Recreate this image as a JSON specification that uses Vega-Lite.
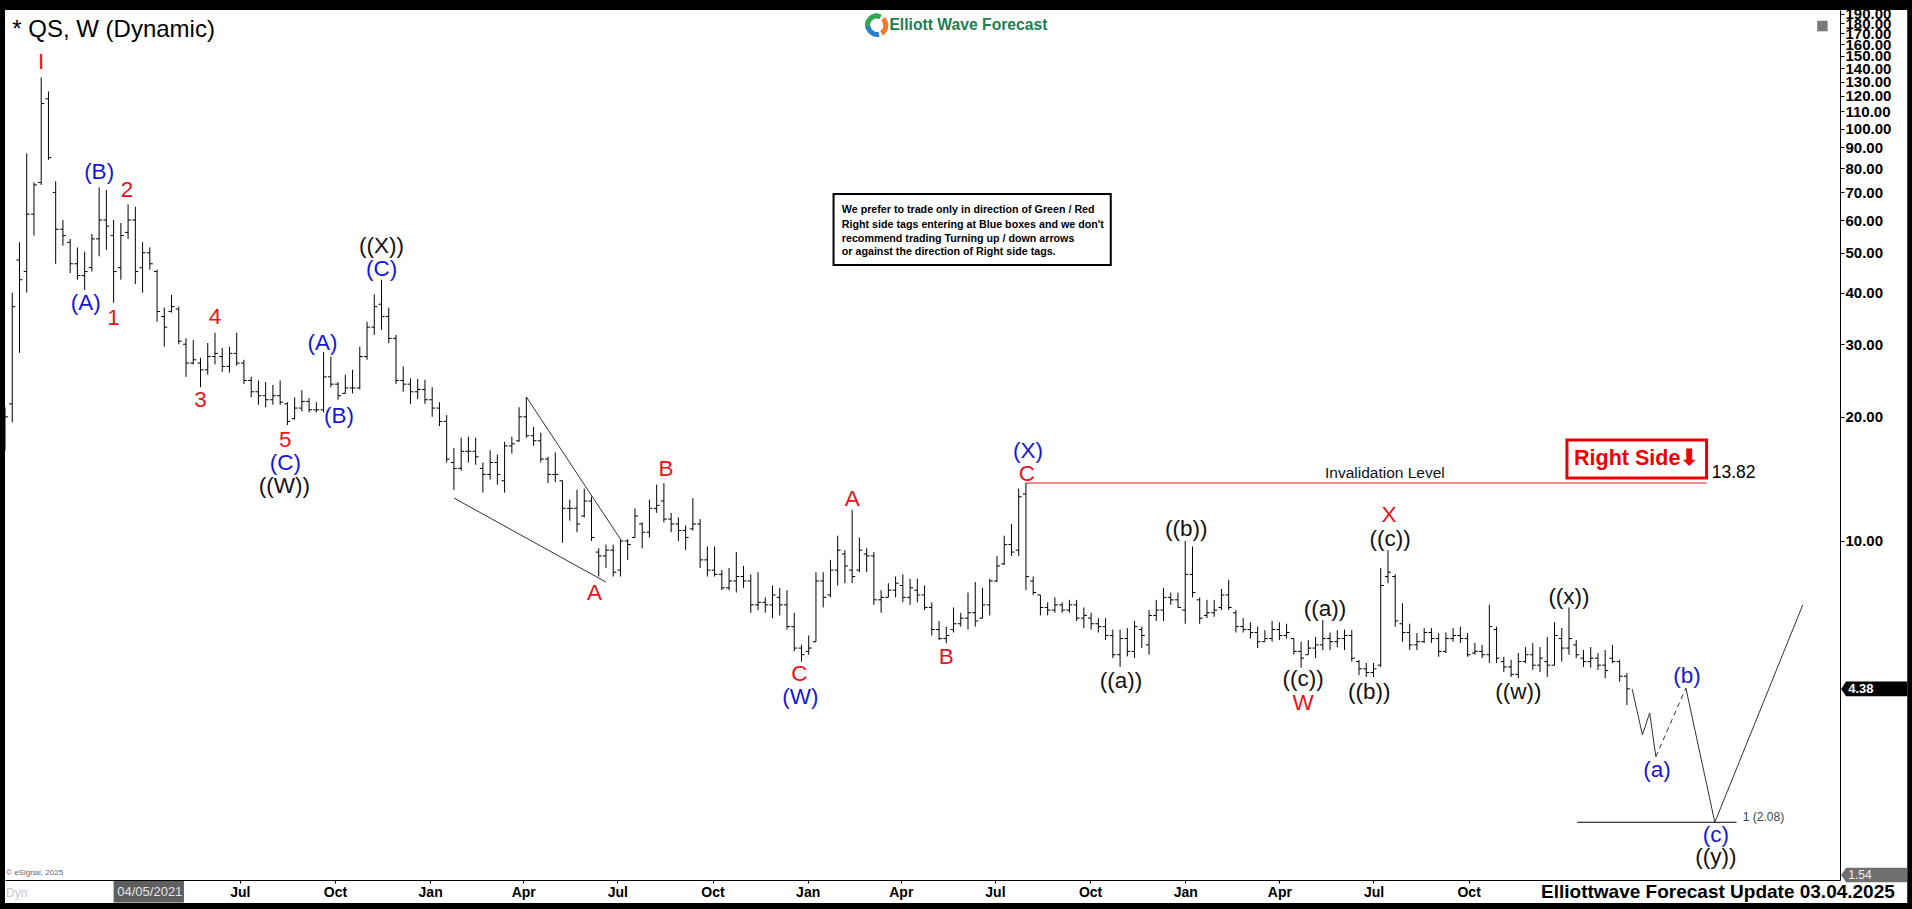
{
"$schema": "https://vega.github.io/schema/vega-lite/v6.json",
"autosize": {"type": "none"},
"width": 1835,
"height": 870,
"padding": {"left": 5, "top": 10, "right": 72, "bottom": 29},
"background": "#ffffff",
"config": {"view": {"stroke": null, "fill": null}, "font": "Liberation Sans"},
"datasets": {
"bars": [
{"d":"2020-11-16","o":17,"h":21.1,"l":16.6,"c":20},
{"d":"2020-11-23","o":21.5,"h":40,"l":19.4,"c":37},
{"d":"2020-11-30","o":48,"h":53,"l":28.6,"c":43},
{"d":"2020-12-07","o":45,"h":87,"l":40,"c":62},
{"d":"2020-12-14","o":62,"h":74,"l":55,"c":73},
{"d":"2020-12-21","o":74,"h":133,"l":73,"c":115},
{"d":"2020-12-28","o":118,"h":123,"l":84,"c":85},
{"d":"2021-01-04","o":70,"h":74.5,"l":47,"c":57},
{"d":"2021-01-11","o":57,"h":60,"l":52,"c":55},
{"d":"2021-01-18","o":53,"h":54,"l":44.6,"c":47},
{"d":"2021-01-25","o":47,"h":51.5,"l":43,"c":44},
{"d":"2021-02-01","o":44,"h":50.3,"l":40.6,"c":45},
{"d":"2021-02-08","o":46,"h":55.5,"l":45,"c":54},
{"d":"2021-02-15","o":54,"h":72,"l":49,"c":60},
{"d":"2021-02-22","o":60,"h":71,"l":50.8,"c":58},
{"d":"2021-03-01","o":55,"h":60,"l":37.8,"c":45},
{"d":"2021-03-08","o":46,"h":59,"l":43,"c":55},
{"d":"2021-03-15","o":56,"h":65.5,"l":54,"c":60},
{"d":"2021-03-22","o":60,"h":64.6,"l":42,"c":45},
{"d":"2021-03-29","o":46,"h":53,"l":40,"c":50},
{"d":"2021-04-05","o":50,"h":51.5,"l":45.5,"c":47},
{"d":"2021-04-12","o":45,"h":45.5,"l":34,"c":36},
{"d":"2021-04-19","o":35,"h":36.8,"l":29.6,"c":33},
{"d":"2021-04-26","o":36,"h":39.5,"l":35.8,"c":37},
{"d":"2021-05-03","o":36.5,"h":37,"l":30,"c":30.5},
{"d":"2021-05-10","o":30,"h":31,"l":25,"c":27},
{"d":"2021-05-17","o":27,"h":30.7,"l":26.8,"c":27.5},
{"d":"2021-05-24","o":27,"h":27.8,"l":23.6,"c":26},
{"d":"2021-05-31","o":26,"h":30.2,"l":25.3,"c":28},
{"d":"2021-06-07","o":28,"h":32,"l":26.8,"c":28.5},
{"d":"2021-06-14","o":28,"h":29.4,"l":25.7,"c":26.5},
{"d":"2021-06-21","o":26.5,"h":29.6,"l":25.6,"c":28.5},
{"d":"2021-06-28","o":28.5,"h":32,"l":26.6,"c":27},
{"d":"2021-07-05","o":27,"h":27.5,"l":24,"c":24.5},
{"d":"2021-07-12","o":24.5,"h":25,"l":22.3,"c":23},
{"d":"2021-07-19","o":23,"h":24.5,"l":21.4,"c":22.5},
{"d":"2021-07-26","o":22.5,"h":24.3,"l":21.1,"c":22},
{"d":"2021-08-02","o":22,"h":23.9,"l":21.4,"c":22.5},
{"d":"2021-08-09","o":22.5,"h":24.5,"l":21.4,"c":21.7},
{"d":"2021-08-16","o":21.5,"h":21.7,"l":19.1,"c":19.5},
{"d":"2021-08-23","o":19.8,"h":22.3,"l":19.7,"c":21},
{"d":"2021-08-30","o":21,"h":23.2,"l":20.6,"c":21.8},
{"d":"2021-09-06","o":21.8,"h":22.2,"l":20.5,"c":20.8},
{"d":"2021-09-13","o":20.8,"h":21.7,"l":20.5,"c":20.8},
{"d":"2021-09-20","o":20.8,"h":28.7,"l":20.5,"c":25},
{"d":"2021-09-27","o":25,"h":28,"l":23.6,"c":24},
{"d":"2021-10-04","o":24,"h":24.3,"l":22,"c":22.5},
{"d":"2021-10-11","o":22.8,"h":25.3,"l":22.8,"c":23.5},
{"d":"2021-10-18","o":23.5,"h":26,"l":22.8,"c":23.5},
{"d":"2021-10-25","o":23.5,"h":29.6,"l":23.3,"c":28},
{"d":"2021-11-01","o":28,"h":34,"l":27.5,"c":33},
{"d":"2021-11-08","o":33,"h":39.6,"l":31.6,"c":37},
{"d":"2021-11-15","o":37.5,"h":43,"l":32.5,"c":35},
{"d":"2021-11-22","o":35,"h":36.8,"l":30.2,"c":31},
{"d":"2021-11-29","o":31,"h":31.6,"l":24,"c":24.5},
{"d":"2021-12-06","o":24.5,"h":26.5,"l":23,"c":24},
{"d":"2021-12-13","o":24,"h":24.8,"l":21.5,"c":23},
{"d":"2021-12-20","o":23,"h":24.7,"l":22.1,"c":23.3},
{"d":"2021-12-27","o":23.3,"h":24.6,"l":21.5,"c":22},
{"d":"2022-01-03","o":22,"h":23.6,"l":20,"c":21},
{"d":"2022-01-10","o":21,"h":21.7,"l":19,"c":19.5},
{"d":"2022-01-17","o":19.5,"h":20.2,"l":15.5,"c":15.8},
{"d":"2022-01-24","o":15.5,"h":16.8,"l":13.3,"c":15},
{"d":"2022-01-31","o":15,"h":17.8,"l":14.8,"c":16.5},
{"d":"2022-02-07","o":16.5,"h":17.9,"l":15.5,"c":16.5},
{"d":"2022-02-14","o":16.5,"h":17.8,"l":15.3,"c":16},
{"d":"2022-02-21","o":15,"h":15.5,"l":13.1,"c":14.5},
{"d":"2022-02-28","o":14.5,"h":16.6,"l":14.1,"c":15.5},
{"d":"2022-03-07","o":15.5,"h":16.2,"l":13.7,"c":14.5},
{"d":"2022-03-14","o":14,"h":17.4,"l":13.1,"c":17},
{"d":"2022-03-21","o":17,"h":17.9,"l":16.3,"c":17.2},
{"d":"2022-03-28","o":17.5,"h":21.1,"l":17.4,"c":20},
{"d":"2022-04-04","o":20,"h":22.3,"l":17.8,"c":18},
{"d":"2022-04-11","o":18,"h":18.9,"l":17,"c":17.5},
{"d":"2022-04-18","o":17.5,"h":18.3,"l":15.5,"c":15.8},
{"d":"2022-04-25","o":15.8,"h":16,"l":13.8,"c":14.5},
{"d":"2022-05-02","o":14.5,"h":16.4,"l":13.9,"c":14.5},
{"d":"2022-05-09","o":14,"h":14,"l":9.9,"c":12},
{"d":"2022-05-16","o":12,"h":12.6,"l":11.2,"c":12},
{"d":"2022-05-23","o":12,"h":13.3,"l":10.5,"c":11},
{"d":"2022-05-30","o":11.5,"h":13.4,"l":11.4,"c":12.5},
{"d":"2022-06-06","o":12.5,"h":12.8,"l":10,"c":10.2},
{"d":"2022-06-13","o":9.4,"h":9.6,"l":8.2,"c":9.2},
{"d":"2022-06-20","o":9.2,"h":9.8,"l":8.6,"c":9.5},
{"d":"2022-06-27","o":9.5,"h":9.8,"l":8.2,"c":8.4},
{"d":"2022-07-04","o":8.5,"h":10.1,"l":8.2,"c":10},
{"d":"2022-07-11","o":10,"h":10.1,"l":9,"c":9.8},
{"d":"2022-07-18","o":10.2,"h":12,"l":10.2,"c":11.5},
{"d":"2022-07-25","o":11,"h":11.1,"l":9.6,"c":10.5},
{"d":"2022-08-01","o":10.5,"h":12.6,"l":10.2,"c":12},
{"d":"2022-08-08","o":12,"h":13.7,"l":11.7,"c":12.2},
{"d":"2022-08-15","o":12.5,"h":13.8,"l":11.1,"c":11.3},
{"d":"2022-08-22","o":11.3,"h":11.7,"l":10.5,"c":11},
{"d":"2022-08-29","o":11,"h":11.4,"l":10,"c":10.6},
{"d":"2022-09-05","o":10.6,"h":10.9,"l":9.5,"c":10.2},
{"d":"2022-09-12","o":10.7,"h":12.7,"l":10.6,"c":11},
{"d":"2022-09-19","o":11,"h":11.3,"l":8.6,"c":9},
{"d":"2022-09-26","o":9,"h":9.7,"l":8.2,"c":8.5},
{"d":"2022-10-03","o":8.5,"h":9.7,"l":8.2,"c":8.3},
{"d":"2022-10-10","o":8.3,"h":8.5,"l":7.6,"c":7.7},
{"d":"2022-10-17","o":7.7,"h":8.6,"l":7.6,"c":8},
{"d":"2022-10-24","o":8,"h":9.4,"l":7.5,"c":8.2},
{"d":"2022-10-31","o":8.2,"h":8.7,"l":7.7,"c":8},
{"d":"2022-11-07","o":8,"h":8.3,"l":6.7,"c":7},
{"d":"2022-11-14","o":7,"h":8.4,"l":6.8,"c":7.1},
{"d":"2022-11-21","o":7.1,"h":7.3,"l":6.7,"c":7},
{"d":"2022-11-28","o":7,"h":7.8,"l":6.5,"c":7.4},
{"d":"2022-12-05","o":7.3,"h":7.7,"l":6.6,"c":7},
{"d":"2022-12-12","o":7,"h":7.6,"l":6.1,"c":6.2},
{"d":"2022-12-19","o":6.2,"h":6.7,"l":5.4,"c":5.5},
{"d":"2022-12-26","o":5.5,"h":5.6,"l":5.1,"c":5.3},
{"d":"2023-01-02","o":5.4,"h":5.9,"l":5.3,"c":5.5},
{"d":"2023-01-09","o":5.7,"h":8.4,"l":5.7,"c":8},
{"d":"2023-01-16","o":8,"h":8.4,"l":6.9,"c":7.3},
{"d":"2023-01-23","o":7.4,"h":9,"l":7.3,"c":8.5},
{"d":"2023-01-30","o":8.5,"h":10.3,"l":7.8,"c":9.5},
{"d":"2023-02-06","o":9.3,"h":9.5,"l":7.9,"c":8.7},
{"d":"2023-02-13","o":8.5,"h":11.9,"l":7.9,"c":8.2},
{"d":"2023-02-20","o":8.5,"h":10.2,"l":8.4,"c":9.5},
{"d":"2023-02-27","o":9.3,"h":9.6,"l":8.4,"c":9.2},
{"d":"2023-03-06","o":9.2,"h":9.4,"l":7,"c":7.2},
{"d":"2023-03-13","o":7.2,"h":7.6,"l":6.7,"c":7.3},
{"d":"2023-03-20","o":7.3,"h":7.9,"l":7.3,"c":7.6},
{"d":"2023-03-27","o":7.6,"h":8.2,"l":7.3,"c":7.9},
{"d":"2023-04-03","o":7.8,"h":8.3,"l":7.1,"c":7.3},
{"d":"2023-04-10","o":7.3,"h":8.1,"l":7,"c":7.7},
{"d":"2023-04-17","o":7.6,"h":8.1,"l":7.1,"c":7.4},
{"d":"2023-04-24","o":7.4,"h":7.8,"l":6.8,"c":6.9},
{"d":"2023-05-01","o":6.9,"h":7.1,"l":5.9,"c":6.1},
{"d":"2023-05-08","o":6.1,"h":6.4,"l":5.75,"c":5.8},
{"d":"2023-05-15","o":5.8,"h":6.2,"l":5.65,"c":5.9},
{"d":"2023-05-22","o":6.1,"h":6.9,"l":6,"c":6.3},
{"d":"2023-05-29","o":6.3,"h":6.7,"l":6.2,"c":6.5},
{"d":"2023-06-05","o":6.5,"h":7.5,"l":6.1,"c":6.7},
{"d":"2023-06-12","o":6.7,"h":7.95,"l":6.2,"c":6.4},
{"d":"2023-06-19","o":6.5,"h":7.7,"l":6.5,"c":7},
{"d":"2023-06-26","o":7,"h":8.1,"l":6.6,"c":8},
{"d":"2023-07-03","o":8,"h":9.2,"l":7.95,"c":8.7},
{"d":"2023-07-10","o":8.8,"h":10.3,"l":8.75,"c":9.8},
{"d":"2023-07-17","o":9.8,"h":11,"l":9.2,"c":9.4},
{"d":"2023-07-24","o":9.5,"h":13.4,"l":9.2,"c":12.8},
{"d":"2023-07-31","o":13,"h":13.82,"l":7.6,"c":8.2},
{"d":"2023-08-07","o":8,"h":8.2,"l":7.4,"c":7.5},
{"d":"2023-08-14","o":7.4,"h":7.4,"l":6.6,"c":6.9},
{"d":"2023-08-21","o":6.9,"h":7.1,"l":6.6,"c":6.8},
{"d":"2023-08-28","o":6.8,"h":7.3,"l":6.7,"c":7},
{"d":"2023-09-04","o":7,"h":7.1,"l":6.7,"c":6.8},
{"d":"2023-09-11","o":6.8,"h":7.2,"l":6.7,"c":7},
{"d":"2023-09-18","o":7,"h":7.2,"l":6.4,"c":6.5},
{"d":"2023-09-25","o":6.5,"h":6.9,"l":6.15,"c":6.6},
{"d":"2023-10-02","o":6.5,"h":6.7,"l":6.1,"c":6.3},
{"d":"2023-10-09","o":6.3,"h":6.5,"l":6,"c":6.2},
{"d":"2023-10-16","o":6.2,"h":6.5,"l":5.75,"c":5.9},
{"d":"2023-10-23","o":5.9,"h":6.1,"l":5.2,"c":5.3},
{"d":"2023-10-30","o":5.3,"h":6.1,"l":4.95,"c":5.8},
{"d":"2023-11-06","o":5.8,"h":6.15,"l":5.25,"c":5.4},
{"d":"2023-11-13","o":5.4,"h":6.4,"l":5.2,"c":6.2},
{"d":"2023-11-20","o":6.1,"h":6.2,"l":5.5,"c":5.9},
{"d":"2023-11-27","o":5.6,"h":6.8,"l":5.3,"c":6.6},
{"d":"2023-12-04","o":6.6,"h":7.2,"l":6.4,"c":6.8},
{"d":"2023-12-11","o":6.8,"h":7.7,"l":6.4,"c":7.3},
{"d":"2023-12-18","o":7.3,"h":7.5,"l":7,"c":7.2},
{"d":"2023-12-25","o":7.2,"h":7.5,"l":6.9,"c":6.9},
{"d":"2024-01-01","o":6.8,"h":10,"l":6.3,"c":8.3},
{"d":"2024-01-08","o":8.3,"h":9.7,"l":7.3,"c":7.5},
{"d":"2024-01-15","o":7.2,"h":7.3,"l":6.3,"c":6.5},
{"d":"2024-01-22","o":6.6,"h":7.2,"l":6.5,"c":6.7},
{"d":"2024-01-29","o":6.7,"h":7.2,"l":6.55,"c":6.8},
{"d":"2024-02-05","o":6.9,"h":7.65,"l":6.8,"c":7.4},
{"d":"2024-02-12","o":7.4,"h":8.05,"l":6.8,"c":6.9},
{"d":"2024-02-19","o":6.7,"h":6.8,"l":6,"c":6.2},
{"d":"2024-02-26","o":6.2,"h":6.5,"l":6,"c":6.1},
{"d":"2024-03-04","o":6.1,"h":6.35,"l":5.8,"c":6},
{"d":"2024-03-11","o":6,"h":6.2,"l":5.5,"c":5.7},
{"d":"2024-03-18","o":5.7,"h":6.08,"l":5.7,"c":5.8},
{"d":"2024-03-25","o":5.8,"h":6.4,"l":5.7,"c":6.1},
{"d":"2024-04-01","o":6.1,"h":6.35,"l":5.75,"c":5.9},
{"d":"2024-04-08","o":5.9,"h":6.3,"l":5.8,"c":6},
{"d":"2024-04-15","o":5.8,"h":5.8,"l":5.3,"c":5.4},
{"d":"2024-04-22","o":5.4,"h":5.7,"l":4.93,"c":5.2},
{"d":"2024-04-29","o":5.3,"h":5.75,"l":5.3,"c":5.5},
{"d":"2024-05-06","o":5.5,"h":5.85,"l":5.2,"c":5.6},
{"d":"2024-05-13","o":5.6,"h":6.43,"l":5.44,"c":5.8},
{"d":"2024-05-20","o":5.8,"h":6,"l":5.44,"c":5.7},
{"d":"2024-05-27","o":5.7,"h":6.08,"l":5.53,"c":5.8},
{"d":"2024-06-03","o":5.8,"h":6.1,"l":5.44,"c":5.9},
{"d":"2024-06-10","o":5.9,"h":6.08,"l":5.1,"c":5.2},
{"d":"2024-06-17","o":5.1,"h":5.15,"l":4.73,"c":4.9},
{"d":"2024-06-24","o":4.9,"h":5.06,"l":4.68,"c":4.8},
{"d":"2024-07-01","o":4.8,"h":5.06,"l":4.68,"c":4.9},
{"d":"2024-07-08","o":5,"h":8.6,"l":4.95,"c":7.8},
{"d":"2024-07-15","o":8.2,"h":9.5,"l":7.9,"c":8.4},
{"d":"2024-07-22","o":8.2,"h":8.3,"l":6.2,"c":6.4},
{"d":"2024-07-29","o":6.3,"h":7.07,"l":5.7,"c":6},
{"d":"2024-08-05","o":6,"h":6.3,"l":5.44,"c":5.6},
{"d":"2024-08-12","o":5.6,"h":5.98,"l":5.44,"c":5.7},
{"d":"2024-08-19","o":5.7,"h":6.15,"l":5.66,"c":6},
{"d":"2024-08-26","o":6,"h":6.15,"l":5.66,"c":5.8},
{"d":"2024-09-02","o":5.8,"h":5.98,"l":5.24,"c":5.4},
{"d":"2024-09-09","o":5.4,"h":6,"l":5.35,"c":5.8},
{"d":"2024-09-16","o":5.8,"h":6.15,"l":5.7,"c":5.9},
{"d":"2024-09-23","o":5.9,"h":6.2,"l":5.66,"c":5.8},
{"d":"2024-09-30","o":5.8,"h":5.98,"l":5.24,"c":5.3},
{"d":"2024-10-07","o":5.35,"h":5.66,"l":5.3,"c":5.4},
{"d":"2024-10-14","o":5.4,"h":5.6,"l":5.2,"c":5.3},
{"d":"2024-10-21","o":5.3,"h":7,"l":5.06,"c":6.2},
{"d":"2024-10-28","o":6.1,"h":6.2,"l":5.06,"c":5.2},
{"d":"2024-11-04","o":5.1,"h":5.24,"l":4.81,"c":4.95},
{"d":"2024-11-11","o":4.95,"h":5.15,"l":4.68,"c":4.75},
{"d":"2024-11-18","o":4.75,"h":5.35,"l":4.65,"c":5.1},
{"d":"2024-11-25","o":5.1,"h":5.53,"l":5.06,"c":5.3},
{"d":"2024-12-02","o":5.3,"h":5.66,"l":4.87,"c":5},
{"d":"2024-12-09","o":5,"h":5.53,"l":4.81,"c":5.2},
{"d":"2024-12-16","o":5.1,"h":5.85,"l":4.68,"c":5},
{"d":"2024-12-23","o":5,"h":6.35,"l":5,"c":5.9},
{"d":"2024-12-30","o":5.8,"h":6.15,"l":5.1,"c":5.5},
{"d":"2025-01-06","o":5.5,"h":6.9,"l":5.3,"c":5.8},
{"d":"2025-01-13","o":5.6,"h":5.75,"l":5.2,"c":5.3},
{"d":"2025-01-20","o":5.2,"h":5.44,"l":4.95,"c":5.1},
{"d":"2025-01-27","o":5.1,"h":5.53,"l":4.93,"c":5.2},
{"d":"2025-02-03","o":5.2,"h":5.35,"l":4.87,"c":5},
{"d":"2025-02-10","o":5,"h":5.44,"l":4.65,"c":4.85},
{"d":"2025-02-17","o":5.2,"h":5.6,"l":5.06,"c":5.1},
{"d":"2025-02-24","o":5.1,"h":5.15,"l":4.56,"c":4.7},
{"d":"2025-03-03","o":4.7,"h":4.78,"l":4,"c":4.38}
],
"waves": [
{"d":"2020-12-21","p":144.9,"t":"I","g":"Minor"},
{"d":"2021-02-15","p":78.5,"t":"(B)","g":"Intermediate"},
{"d":"2021-03-14","p":71.0,"t":"2","g":"Minor"},
{"d":"2021-02-02","p":37.8,"t":"(A)","g":"Intermediate"},
{"d":"2021-03-01","p":34.7,"t":"1","g":"Minor"},
{"d":"2021-06-07","p":34.9,"t":"4","g":"Minor"},
{"d":"2021-05-24","p":21.97,"t":"3","g":"Minor"},
{"d":"2021-08-14","p":17.6,"t":"5","g":"Minor"},
{"d":"2021-08-14","p":15.45,"t":"(C)","g":"Intermediate"},
{"d":"2021-08-13","p":13.6,"t":"((W))","g":"Primary"},
{"d":"2021-09-19","p":30.2,"t":"(A)","g":"Intermediate"},
{"d":"2021-10-05","p":20.1,"t":"(B)","g":"Intermediate"},
{"d":"2021-11-15","p":51.9,"t":"((X))","g":"Primary"},
{"d":"2021-11-15","p":45.6,"t":"(C)","g":"Intermediate"},
{"d":"2022-06-09","p":7.48,"t":"A","g":"Minor"},
{"d":"2022-08-17","p":14.95,"t":"B","g":"Minor"},
{"d":"2022-12-24","p":4.76,"t":"C","g":"Minor"},
{"d":"2022-12-25","p":4.19,"t":"(W)","g":"Intermediate"},
{"d":"2023-02-13","p":12.64,"t":"A","g":"Minor"},
{"d":"2023-05-15","p":5.23,"t":"B","g":"Minor"},
{"d":"2023-08-02","p":16.5,"t":"(X)","g":"Intermediate"},
{"d":"2023-08-01","p":14.55,"t":"C","g":"Minor"},
{"d":"2023-10-31","p":4.58,"t":"((a))","g":"Primary"},
{"d":"2024-01-02","p":10.69,"t":"((b))","g":"Primary"},
{"d":"2024-04-24","p":4.05,"t":"W","g":"Minor"},
{"d":"2024-04-24","p":4.63,"t":"((c))","g":"Primary"},
{"d":"2024-05-15","p":6.84,"t":"((a))","g":"Primary"},
{"d":"2024-06-27","p":4.31,"t":"((b))","g":"Primary"},
{"d":"2024-07-16","p":11.55,"t":"X","g":"Minor"},
{"d":"2024-07-17","p":10.1,"t":"((c))","g":"Primary"},
{"d":"2024-11-18","p":4.31,"t":"((w))","g":"Primary"},
{"d":"2025-01-06","p":7.32,"t":"((x))","g":"Primary"},
{"d":"2025-04-30","p":4.71,"t":"(b)","g":"Intermediate"},
{"d":"2025-04-01","p":2.79,"t":"(a)","g":"Intermediate"},
{"d":"2025-05-28","p":1.94,"t":"(c)","g":"Intermediate"},
{"d":"2025-05-28","p":1.71,"t":"((y))","g":"Primary"}
]
},
"layer": [
{
"data": {"values": [
{"d":"2020-11-01","d2":"2025-12-31","p":193.8,"p2":400},
{"d":"2020-11-01","d2":"2020-11-16","p":1.0,"p2":400},
{"d":"2025-11-29","d2":"2025-12-31","p":1.0,"p2":400},
{"d":"2020-11-01","d2":"2025-12-31","p":1.0,"p2":1.326}
]},
"mark": {"type": "rect", "fill": "#000000", "clip": false},
"encoding": {
"x": {"field": "d", "type": "temporal", "title": null,
"scale": {"type": "utc", "domain": [{"year":2020,"month":11,"date":16,"utc":true},{"year":2025,"month":9,"date":25,"utc":true}]},
"axis": {"orient": "bottom", "grid": false, "title": null,
"values": [{"year":2021,"month":4,"date":5,"utc":true},{"year":2021,"month":7,"date":1,"utc":true},{"year":2021,"month":10,"date":1,"utc":true},{"year":2022,"month":1,"date":1,"utc":true},{"year":2022,"month":4,"date":1,"utc":true},{"year":2022,"month":7,"date":1,"utc":true},{"year":2022,"month":10,"date":1,"utc":true},{"year":2023,"month":1,"date":1,"utc":true},{"year":2023,"month":4,"date":1,"utc":true},{"year":2023,"month":7,"date":1,"utc":true},{"year":2023,"month":10,"date":1,"utc":true},{"year":2024,"month":1,"date":1,"utc":true},{"year":2024,"month":4,"date":1,"utc":true},{"year":2024,"month":7,"date":1,"utc":true},{"year":2024,"month":10,"date":1,"utc":true}],
"labelExpr": "(utcyear(datum.value) == 2021 && utcmonth(datum.value) == 3) ? '' : utcFormat(datum.value, '%b')",
"labelFont": "Liberation Sans", "labelFontSize": 14, "labelFontWeight": "bold", "labelColor": "#000000",
"labelPadding": 2, "tickSize": 3, "tickColor": "#000000", "domainColor": "#000000", "labelOverlap": false, "labelFlush": false}},
"x2": {"field": "d2"},
"y": {"field": "p", "type": "quantitative", "title": null,
"scale": {"type": "log", "domain": [1.507, 193.8], "nice": false},
"axis": {"orient": "right", "grid": false, "title": null,
"values": [10,20,30,40,50,60,70,80,90,100,110,120,130,140,150,160,170,180,190],
"format": ".2f", "labelFont": "Liberation Sans", "labelFontSize": 15, "labelFontWeight": "bold", "labelColor": "#000000",
"labelPadding": 1, "tickSize": 4, "tickColor": "#000000", "domainColor": "#000000", "labelOverlap": false, "labelBound": false}},
"y2": {"field": "p2"}
}
},
{
"data": {"values": [{"d":"2021-03-01","d2":"2021-05-08","p":1.33,"p2":1.499}]},
"mark": {"type": "rect", "fill": "#5f5f5f", "clip": false},
"encoding": {
"x": {"field": "d", "type": "temporal", "title": null, "scale": {"type": "utc"}},
"x2": {"field": "d2"},
"y": {"field": "p", "type": "quantitative", "title": null, "scale": {"type": "log"}},
"y2": {"field": "p2"}
}
},
{
"data": {"values": [{"d":"2021-04-05","p":1.409,"t":"04/05/2021"}]},
"mark": {"type": "text", "font": "Liberation Sans", "fontSize": 13, "align": "center", "baseline": "middle", "color": "#e6e6e6", "clip": false},
"encoding": {
"x": {"field": "d", "type": "temporal", "title": null, "scale": {"type": "utc"}},
"y": {"field": "p", "type": "quantitative", "title": null, "scale": {"type": "log"}},
"text": {"field": "t"}
}
},
{
"data": {"values": [{"d":"2022-04-04","p":22.35,"k":"u"},{"d":"2022-07-04","p":10.1,"k":"u"},{"d":"2022-01-24","p":12.71,"k":"l"},{"d":"2022-06-20","p":7.95,"k":"l"}]},
"mark": {"type": "line", "color": "#333333", "strokeWidth": 1},
"encoding": {
"x": {"field": "d", "type": "temporal", "title": null, "scale": {"type": "utc"}},
"y": {"field": "p", "type": "quantitative", "title": null, "scale": {"type": "log"}},
"detail": {"field": "k"}
}
},
{
"data": {"values": [{"d":"2023-07-31","d2":"2025-05-19","p":13.82}]},
"mark": {"type": "rule", "color": "#dd1111", "strokeWidth": 1},
"encoding": {
"x": {"field": "d", "type": "temporal", "title": null, "scale": {"type": "utc"}},
"x2": {"field": "d2"},
"y": {"field": "p", "type": "quantitative", "title": null, "scale": {"type": "log"}}
}
},
{
"data": {"values": [{"d":"2025-01-14","d2":"2025-06-17","p":2.08}]},
"mark": {"type": "rule", "color": "#000000", "strokeWidth": 1},
"encoding": {
"x": {"field": "d", "type": "temporal", "title": null, "scale": {"type": "utc"}},
"x2": {"field": "d2"},
"y": {"field": "p", "type": "quantitative", "title": null, "scale": {"type": "log"}}
}
},
{
"data": {"values": [{"d":"2025-03-08","p":4.38,"s":"a"},{"d":"2025-03-18","p":3.39,"s":"a"},{"d":"2025-03-25","p":3.83,"s":"a"},{"d":"2025-03-31","p":3.0,"s":"a"},{"d":"2025-04-29","p":4.4,"s":"c"},{"d":"2025-05-27","p":2.08,"s":"c"},{"d":"2025-08-20","p":7.0,"s":"c"}]},
"mark": {"type": "line", "color": "#333333", "strokeWidth": 1},
"encoding": {
"x": {"field": "d", "type": "temporal", "title": null, "scale": {"type": "utc"}},
"y": {"field": "p", "type": "quantitative", "title": null, "scale": {"type": "log"}},
"detail": {"field": "s"}
}
},
{
"data": {"values": [{"d":"2025-03-31","p":3.0},{"d":"2025-04-29","p":4.4}]},
"mark": {"type": "line", "color": "#333333", "strokeWidth": 1, "strokeDash": [5, 4]},
"encoding": {
"x": {"field": "d", "type": "temporal", "title": null, "scale": {"type": "utc"}},
"y": {"field": "p", "type": "quantitative", "title": null, "scale": {"type": "log"}}
}
},
{
"data": {"name": "bars"},
"mark": {"type": "rule", "color": "#000000", "strokeWidth": 1},
"encoding": {
"x": {"field": "d", "type": "temporal", "title": null, "scale": {"type": "utc"}},
"y": {"field": "l", "type": "quantitative", "title": null, "scale": {"type": "log"}},
"y2": {"field": "h"}
}
},
{
"data": {"name": "bars"},
"mark": {"type": "point", "shape": "M -1 0 L 0 0", "size": 36, "filled": false, "stroke": "#000000", "strokeWidth": 1, "opacity": 1},
"encoding": {
"x": {"field": "d", "type": "temporal", "title": null, "scale": {"type": "utc"}},
"y": {"field": "o", "type": "quantitative", "title": null, "scale": {"type": "log"}}
}
},
{
"data": {"name": "bars"},
"mark": {"type": "point", "shape": "M 0 0 L 1 0", "size": 36, "filled": false, "stroke": "#000000", "strokeWidth": 1, "opacity": 1},
"encoding": {
"x": {"field": "d", "type": "temporal", "title": null, "scale": {"type": "utc"}},
"y": {"field": "c", "type": "quantitative", "title": null, "scale": {"type": "log"}}
}
},
{
"data": {"name": "waves"},
"mark": {"type": "text", "font": "Liberation Sans", "fontSize": 22.5, "align": "center", "baseline": "middle"},
"encoding": {
"x": {"field": "d", "type": "temporal", "title": null, "scale": {"type": "utc"}},
"y": {"field": "p", "type": "quantitative", "title": null, "scale": {"type": "log"}},
"text": {"field": "t"},
"color": {"field": "g", "type": "nominal", "legend": null, "scale": {"domain": ["Minor", "Intermediate", "Primary"], "range": ["#e8121b", "#1616d8", "#111111"]}}
}
},
{
"data": {"values": [{"d":"2023-01-26","d2":"2023-10-21","p":46.7,"p2":69.4}]},
"mark": {"type": "rect", "fill": "#ffffff", "stroke": "#000000", "strokeWidth": 2},
"encoding": {
"x": {"field": "d", "type": "temporal", "title": null, "scale": {"type": "utc"}},
"x2": {"field": "d2"},
"y": {"field": "p", "type": "quantitative", "title": null, "scale": {"type": "log"}},
"y2": {"field": "p2"}
}
},
{
"data": {"values": [
{"d":"2023-02-03","p":63.5,"t":"We prefer to trade only in direction of Green / Red"},
{"d":"2023-02-03","p":58.3,"t":"Right side tags entering at Blue boxes and we don't"},
{"d":"2023-02-03","p":54.1,"t":"recommend trading Turning up / down arrows"},
{"d":"2023-02-03","p":50.2,"t":"or against the direction of Right side tags."}
]},
"mark": {"type": "text", "font": "Liberation Sans", "fontSize": 10.7, "fontWeight": "bold", "align": "left", "baseline": "middle", "color": "#000000"},
"encoding": {
"x": {"field": "d", "type": "temporal", "title": null, "scale": {"type": "utc"}},
"y": {"field": "p", "type": "quantitative", "title": null, "scale": {"type": "log"}},
"text": {"field": "t"}
}
},
{
"data": {"values": [{"d":"2025-01-04","d2":"2025-05-19","p":14.21,"p2":17.57}]},
"mark": {"type": "rect", "fill": "#ffffff", "stroke": "#ee0000", "strokeWidth": 3},
"encoding": {
"x": {"field": "d", "type": "temporal", "title": null, "scale": {"type": "utc"}},
"x2": {"field": "d2"},
"y": {"field": "p", "type": "quantitative", "title": null, "scale": {"type": "log"}},
"y2": {"field": "p2"}
}
},
{
"data": {"values": [{"d":"2025-03-12","p":15.8,"t":"Right Side⬇"}]},
"mark": {"type": "text", "font": "Liberation Sans", "fontSize": 21.5, "fontWeight": "bold", "align": "center", "baseline": "middle", "color": "#ee0000"},
"encoding": {
"x": {"field": "d", "type": "temporal", "title": null, "scale": {"type": "utc"}},
"y": {"field": "p", "type": "quantitative", "title": null, "scale": {"type": "log"}},
"text": {"field": "t"}
}
},
{
"data": {"values": [{"d":"2024-07-12","p":14.62,"t":"Invalidation Level"}]},
"mark": {"type": "text", "font": "Liberation Sans", "fontSize": 15.5, "align": "center", "baseline": "middle", "color": "#111111"},
"encoding": {
"x": {"field": "d", "type": "temporal", "title": null, "scale": {"type": "utc"}},
"y": {"field": "p", "type": "quantitative", "title": null, "scale": {"type": "log"}},
"text": {"field": "t"}
}
},
{
"data": {"values": [{"d":"2025-05-24","p":14.59,"t":"13.82"}]},
"mark": {"type": "text", "font": "Liberation Sans", "fontSize": 17.5, "align": "left", "baseline": "middle", "color": "#000000"},
"encoding": {
"x": {"field": "d", "type": "temporal", "title": null, "scale": {"type": "utc"}},
"y": {"field": "p", "type": "quantitative", "title": null, "scale": {"type": "log"}},
"text": {"field": "t"}
}
},
{
"data": {"values": [{"d":"2025-06-23","p":2.14,"t":"1 (2.08)"}]},
"mark": {"type": "text", "font": "Liberation Sans", "fontSize": 12, "align": "left", "baseline": "middle", "color": "#444444"},
"encoding": {
"x": {"field": "d", "type": "temporal", "title": null, "scale": {"type": "utc"}},
"y": {"field": "p", "type": "quantitative", "title": null, "scale": {"type": "log"}},
"text": {"field": "t"}
}
},
{
"data": {"values": [{"d":"2020-11-23","p":173.7,"t":"* QS, W (Dynamic)"}]},
"mark": {"type": "text", "font": "Liberation Sans", "fontSize": 24, "align": "left", "baseline": "middle", "color": "#000000"},
"encoding": {
"x": {"field": "d", "type": "temporal", "title": null, "scale": {"type": "utc"}},
"y": {"field": "p", "type": "quantitative", "title": null, "scale": {"type": "log"}},
"text": {"field": "t"}
}
},
{
"data": {"values": [{"d":"2023-03-21","p":177.8,"t":"Elliott Wave Forecast"}]},
"mark": {"type": "text", "font": "Liberation Sans", "fontSize": 15.7, "fontWeight": "bold", "align": "left", "baseline": "middle", "color": "#1b7f52"},
"encoding": {
"x": {"field": "d", "type": "temporal", "title": null, "scale": {"type": "utc"}},
"y": {"field": "p", "type": "quantitative", "title": null, "scale": {"type": "log"}},
"text": {"field": "t"}
}
},
{
"data": {"values": [{"d":"2023-03-09","p":177.8}]},
"mark": {"type": "point", "shape": "M -0.85 0.35 A 0.9 0.9 0 0 1 0.35 -0.85", "size": 400, "filled": false, "stroke": "#2fa84f", "strokeWidth": 5, "opacity": 1},
"encoding": {
"x": {"field": "d", "type": "temporal", "title": null, "scale": {"type": "utc"}},
"y": {"field": "p", "type": "quantitative", "title": null, "scale": {"type": "log"}}
}
},
{
"data": {"values": [{"d":"2023-03-09","p":177.8}]},
"mark": {"type": "point", "shape": "M 0.6 -0.65 A 0.9 0.9 0 0 1 0.45 0.78", "size": 400, "filled": false, "stroke": "#f07a2a", "strokeWidth": 5, "opacity": 1},
"encoding": {
"x": {"field": "d", "type": "temporal", "title": null, "scale": {"type": "utc"}},
"y": {"field": "p", "type": "quantitative", "title": null, "scale": {"type": "log"}}
}
},
{
"data": {"values": [{"d":"2023-03-09","p":177.8}]},
"mark": {"type": "point", "shape": "M 0.2 0.88 A 0.9 0.9 0 0 1 -0.88 0.1", "size": 400, "filled": false, "stroke": "#2a7fd0", "strokeWidth": 5, "opacity": 1},
"encoding": {
"x": {"field": "d", "type": "temporal", "title": null, "scale": {"type": "utc"}},
"y": {"field": "p", "type": "quantitative", "title": null, "scale": {"type": "log"}}
}
},
{
"data": {"values": [{"d":"2025-10-28","p":4.38,"k":"last"},{"d":"2025-10-28","p":1.55,"k":"min"}]},
"mark": {"type": "point", "shape": "M -1 0 L -0.85 -0.22 L 1 -0.22 L 1 0.22 L -0.85 0.22 Z", "size": 4356, "filled": true, "opacity": 1, "clip": false},
"encoding": {
"x": {"field": "d", "type": "temporal", "title": null, "scale": {"type": "utc"}},
"y": {"field": "p", "type": "quantitative", "title": null, "scale": {"type": "log"}},
"color": {"condition": {"test": "datum.k == 'min'", "value": "#6f6f6f"}, "value": "#000000"}
}
},
{
"data": {"values": [{"d":"2025-10-03","p":4.38,"t":"4.38"}]},
"mark": {"type": "text", "font": "Liberation Sans", "fontSize": 13, "fontWeight": "bold", "align": "left", "baseline": "middle", "color": "#ffffff", "clip": false},
"encoding": {
"x": {"field": "d", "type": "temporal", "title": null, "scale": {"type": "utc"}},
"y": {"field": "p", "type": "quantitative", "title": null, "scale": {"type": "log"}},
"text": {"field": "t"}
}
},
{
"data": {"values": [{"d":"2025-10-03","p":1.55,"t":"1.54"}]},
"mark": {"type": "text", "font": "Liberation Sans", "fontSize": 12, "align": "left", "baseline": "middle", "color": "#eeeeee", "clip": false},
"encoding": {
"x": {"field": "d", "type": "temporal", "title": null, "scale": {"type": "utc"}},
"y": {"field": "p", "type": "quantitative", "title": null, "scale": {"type": "log"}},
"text": {"field": "t"}
}
},
{
"data": {"values": [{"d":"2025-11-17","p":1.409,"t":"Elliottwave Forecast Update 03.04.2025"}]},
"mark": {"type": "text", "font": "Liberation Sans", "fontSize": 19, "fontWeight": "bold", "align": "right", "baseline": "middle", "color": "#000000", "clip": false},
"encoding": {
"x": {"field": "d", "type": "temporal", "title": null, "scale": {"type": "utc"}},
"y": {"field": "p", "type": "quantitative", "title": null, "scale": {"type": "log"}},
"text": {"field": "t"}
}
},
{
"data": {"values": [{"d":"2020-11-17","p":1.567,"t":"© eSignal, 2025"}]},
"mark": {"type": "text", "font": "Liberation Sans", "fontSize": 8, "align": "left", "baseline": "middle", "color": "#666666"},
"encoding": {
"x": {"field": "d", "type": "temporal", "title": null, "scale": {"type": "utc"}},
"y": {"field": "p", "type": "quantitative", "title": null, "scale": {"type": "log"}},
"text": {"field": "t"}
}
},
{
"data": {"values": [{"d":"2020-11-17","p":1.402,"t":"Dyn"}]},
"mark": {"type": "text", "font": "Liberation Sans", "fontSize": 12, "align": "left", "baseline": "middle", "color": "#c8c8c8", "clip": false},
"encoding": {
"x": {"field": "d", "type": "temporal", "title": null, "scale": {"type": "utc"}},
"y": {"field": "p", "type": "quantitative", "title": null, "scale": {"type": "log"}},
"text": {"field": "t"}
}
},
{
"data": {"values": [{"d":"2025-09-08","p":177.2}]},
"mark": {"type": "point", "shape": "square", "size": 110, "filled": true, "color": "#7a7a7a", "opacity": 1},
"encoding": {
"x": {"field": "d", "type": "temporal", "title": null, "scale": {"type": "utc"}},
"y": {"field": "p", "type": "quantitative", "title": null, "scale": {"type": "log"}}
}
}
]
}
